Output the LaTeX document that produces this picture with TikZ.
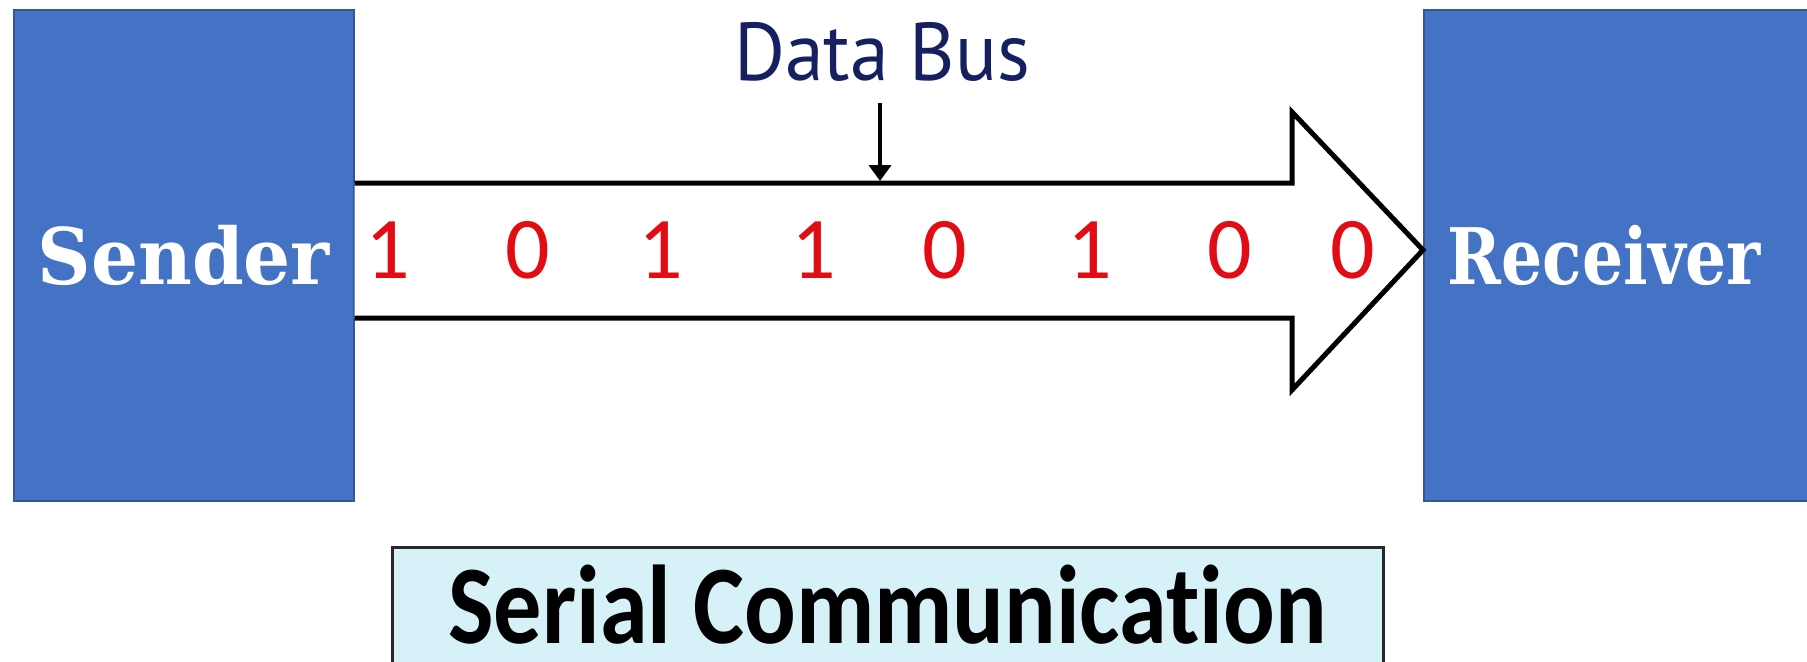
\documentclass[tikz,border=0pt]{standalone}
\usepackage{fontspec}
\setmainfont{DejaVu Serif}
\newfontfamily\busfont{PT Sans}
\newfontfamily\digitfont{Carlito}
\newfontfamily\titlefont[Ligatures={NoCommon,NoRare}]{Carlito}
\usetikzlibrary{arrows.meta}
\definecolor{boxblue}{RGB}{68,114,196}
\definecolor{boxedge}{RGB}{55,85,145}
\definecolor{busnavy}{RGB}{22,32,96}
\definecolor{bitred}{RGB}{225,12,20}
\definecolor{titlefill}{RGB}{214,241,248}
\definecolor{titleedge}{RGB}{40,40,40}
\tikzset{
  party/.style={draw=boxedge, line width=0.8pt, fill=boxblue, text=white,
    inner sep=0pt, minimum height=245.5pt, font=\bfseries\fontsize{39}{39}\selectfont},
  busline/.style={draw=black, line width=2.5pt, line join=miter, fill=white},
  pointer/.style={draw=black, line width=2pt, -{Triangle[length=8pt,width=11pt]}},
  bit/.style={text=bitred, inner sep=0pt, anchor=base, font=\digitfont\fontsize{44}{44}\selectfont},
  buslabel/.style={text=busnavy, inner sep=0pt, anchor=base, font=\busfont\fontsize{41}{41}\selectfont},
  titlebox/.style={draw=titleedge, line width=1.5pt, fill=titlefill, inner sep=0pt,
    anchor=base, minimum width=495.5pt, text height=48pt, text depth=28.5pt,
    font=\titlefont\bfseries\fontsize{56}{56}\selectfont}
}
\begin{document}
\begin{tikzpicture}[x=0.5pt,y=-0.5pt]
\useasboundingbox (0,0) rectangle (1807,661);
\clip (0,0) rectangle (1807,661);
\fill[white] (0,0) rectangle (1807,661);
% sender and receiver
\node[party, anchor=north west, minimum width=170pt] (sender) at (13,9) {\scalebox{0.95}[1]{Sender}};
\node[party, anchor=north west, text width=186pt, inner xsep=12pt, align=left] (receiver) at (1423,9) {\scalebox{0.83}[1]{Receiver}};
% data bus block arrow
\draw[busline] (sender.east |- 0,183) -- (1292,183) -- (1292,112) -- (receiver.west |- 0,250)
  -- (1292,390) -- (1292,318) -- (sender.east |- 0,318);
% bits
\node[bit] (b1) at (388,278) {1};
\node[bit] (b2) at (528,278) {0};
\node[bit] (b3) at (661,278) {1};
\node[bit] (b4) at (814,278) {1};
\node[bit] (b5) at (945,278) {0};
\node[bit] (b6) at (1090,278) {1};
\node[bit] (b7) at (1230,278) {0};
\node[bit] (b8) at (1353,278) {0};
% label
\node[buslabel] (busl) at (882,80) {\scalebox{0.95}[1]{Data Bus}};
\coordinate (busin) at (880,181);
\draw[pointer] ([yshift=-11pt]busl.south -| busin) -- (busin);
% title
\node[titlebox] (title) at (887.5,643) {\scalebox{0.86}[1]{Serial Communication}};
\end{tikzpicture}
\end{document}
